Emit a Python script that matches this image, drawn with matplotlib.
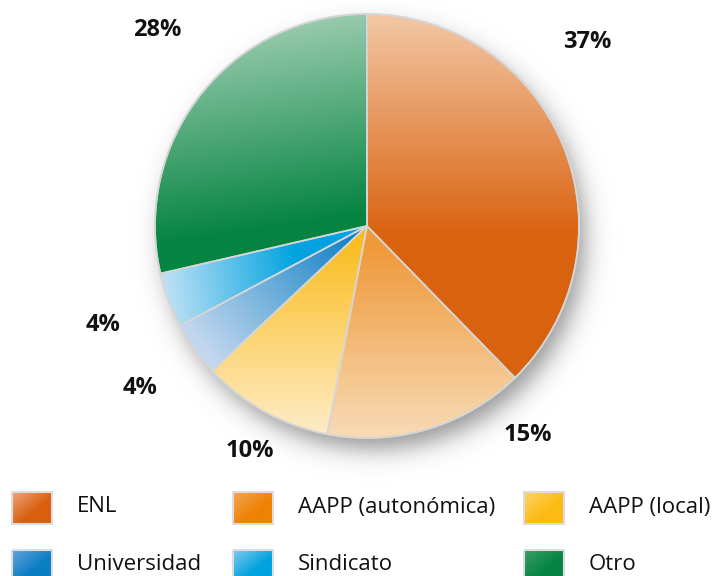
import numpy as np
import matplotlib
matplotlib.use("Agg")
import matplotlib.pyplot as plt
from matplotlib.colors import to_rgb

categories = ["ENL", "AAPP (autonómica)", "AAPP (local)", "Universidad", "Sindicato", "Otro"]
shares = [37.7, 15.3, 10.0, 4.2, 4.2, 28.6]
pct_labels = ["37%", "15%", "10%", "4%", "4%", "28%"]

# gradient colours per slice: (light, dark)
light_cols = ["#F3C8A6", "#F8DBB6", "#FEEDCB", "#C2D7EE", "#C6E3F6", "#A3D0B5"]
dark_cols = ["#D9620F", "#EF993A", "#FABC1C", "#0B7FC4", "#00A3DF", "#058441"]
# legend swatches have their own, stronger gradient
leg_light = ["#EDA47C", "#F3A654", "#FDD468", "#62A4DA", "#80C8EE", "#3A9E64"]
leg_dark = ["#D95F0E", "#EE8204", "#FBBB14", "#0A7DC3", "#00A3DF", "#058441"]
# gradient axis per slice (light point -> dark point), in pie radius units
grad_axis = [((0.0, 1.0), (0.0, -0.05)),
             ((0.0, -1.0), (0.0, -0.1)),
             ((0.0, -1.0), (0.0, -0.05)),
             ((-0.75, -0.6), (-0.05, -0.02)),
             ((-1.0, -0.15), (-0.35, -0.05)),
             ((-0.55, 1.0), (-0.4, 0.0))]
# label positions (pixels, from top left)
label_xy = [(587, 42), (528, 435), (250, 451), (140, 388), (103, 325), (157, 30)]

W, H = 724, 576
cx, cy, R = 367, 226, 212
fig = plt.figure(figsize=(W / 100, H / 100), dpi=100)

# overlay axis in pixel coordinates for texts and legend
ov = fig.add_axes([0, 0, 1, 1], zorder=1)
ov.set_xlim(0, W); ov.set_ylim(H, 0); ov.axis("off")
ov.patch.set_alpha(0)

# pie axis
L = 1.3
ax = fig.add_axes([(cx - L * R) / W, (H - cy - L * R) / H, 2 * L * R / W, 2 * L * R / H], zorder=2)
ax.patch.set_alpha(0)

wedges, _ = ax.pie(shares, startangle=90, counterclock=False, radius=1,
                   wedgeprops=dict(facecolor="none", edgecolor="#d6d6d6", linewidth=1.2, zorder=3))
ax.set_xlim(-L, L); ax.set_ylim(-L, L); ax.axis("off")

n = 600
gx, gy = np.meshgrid(np.linspace(-1.05, 1.05, n), np.linspace(-1.05, 1.05, n))

# soft shadow under the pie
sx, sy = np.meshgrid(np.linspace(-L, L, n), np.linspace(-L, L, n))
d = np.hypot(sx - 0.035, sy + 0.06)
alpha = 0.42 / (1 + np.exp((d - 0.99) / 0.035))
shadow = np.zeros((n, n, 4)); shadow[..., 3] = alpha
ax.imshow(shadow, extent=[-L, L, -L, L], origin="lower", zorder=1, interpolation="bilinear")

for w, lc, dc, (a, b) in zip(wedges, light_cols, dark_cols, grad_axis):
    a = np.array(a); b = np.array(b)
    v = b - a
    t = ((gx - a[0]) * v[0] + (gy - a[1]) * v[1]) / (v @ v)
    t = np.clip(t, 0, 1)[..., None]
    img = (1 - t) * np.array(to_rgb(lc)) + t * np.array(to_rgb(dc))
    im = ax.imshow(img, extent=[-1.05, 1.05, -1.05, 1.05], origin="lower", zorder=2,
                   interpolation="bilinear")
    im.set_clip_path(w)

# outer rim
ax.add_patch(plt.Circle((0, 0), 1, fill=False, edgecolor="#d6d6d6", linewidth=1.2, zorder=4))

for txt, (x, y) in zip(pct_labels, label_xy):
    ov.text(x, y, txt, ha="center", va="center", fontsize=17, fontweight="bold",
            family="Open Sans", color="#111111")

# legend
leg_x = [12, 233, 524]
leg_y = [492, 550]
sq_w, sq_h = 40, 32
u, vv = np.meshgrid(np.linspace(0, 1, 40), np.linspace(0, 1, 32))
t = np.clip((u + vv) / 2 * 1.7, 0, 1)[..., None]
for i, (name, lc, dc) in enumerate(zip(categories, leg_light, leg_dark)):
    x0 = leg_x[i % 3]; y0 = leg_y[i // 3]
    img = (1 - t) * np.array(to_rgb(lc)) + t * np.array(to_rgb(dc))
    ov.imshow(img, extent=[x0, x0 + sq_w, y0 + sq_h, y0], zorder=2, interpolation="bilinear")
    ov.add_patch(plt.Rectangle((x0, y0), sq_w, sq_h, fill=False, edgecolor="#dddddd",
                               linewidth=1.5, zorder=3))
    ov.text(x0 + 65, y0 + 15, name, ha="left", va="center", fontsize=16,
            family="Open Sans", color="#111111")
ov.set_xlim(0, W); ov.set_ylim(H, 0)

fig.savefig("out.png", dpi=100)
